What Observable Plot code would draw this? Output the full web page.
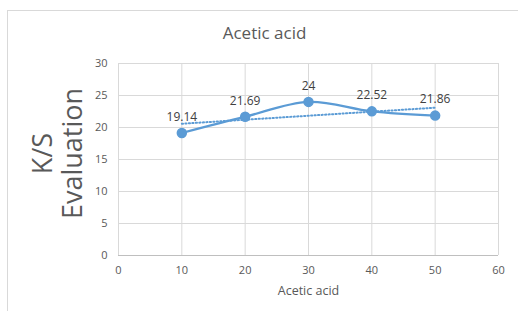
<!DOCTYPE html>
<html><head><meta charset="utf-8">
<script src="https://cdn.jsdelivr.net/npm/d3@7"></script>
<script src="https://cdn.jsdelivr.net/npm/@observablehq/plot@0.6"></script>
<style>
body{margin:0;background:#fff;}
#wrap{position:relative;width:518px;height:311px;overflow:hidden;font-family:"Open Sans",sans-serif;}
#frame{position:absolute;left:7px;top:10px;width:600px;height:400px;border:1px solid #d9d9d9;box-sizing:border-box;}
#wrap svg{position:absolute;left:0;top:0;}
</style></head>
<body><div id="wrap"><div id="frame"></div></div>
<script>
const concentrations = [10, 20, 30, 40, 50];
const ksValues = [19.14, 21.69, 24, 22.52, 21.86];
const xTicks = [0, 10, 20, 30, 40, 50, 60];
const yTicks = [0, 5, 10, 15, 20, 25, 30];
const titleText = "Acetic acid";
const xLabel = "Acetic acid";
const yLabel = "K/S\nEvaluation";

const data = concentrations.map((x, i) => ({x, y: ksValues[i]}));
const blue = "#5B9BD5";
const gray = "#595959";

const chart = Plot.plot({
  width: 518, height: 311,
  marginLeft: 118, marginRight: 20, marginTop: 63, marginBottom: 56,
  style: {fontFamily: "'Open Sans', sans-serif", fontSize: "11px", color: gray, background: "transparent"},
  x: {domain: [0, 60], ticks: xTicks, label: null},
  y: {domain: [0, 30], ticks: yTicks, label: null},
  marks: [
    Plot.gridX(xTicks, {stroke: "#d9d9d9", strokeOpacity: 1}),
    Plot.gridY(yTicks, {stroke: "#d9d9d9", strokeOpacity: 1}),
    Plot.ruleY([0], {stroke: "#bfbfbf"}),
    Plot.axisX({ticks: xTicks, tickSize: 0, tickPadding: 11, fontSize: 11, fill: gray, label: null}),
    Plot.axisY({ticks: yTicks, tickSize: 0, tickPadding: 11, fontSize: 11, fill: gray, label: null}),
    Plot.linearRegressionY(data, {x: "x", y: "y", ci: 0, stroke: blue, strokeWidth: 2, strokeDasharray: "1.2,2.3"}),
    Plot.line(data, {x: "x", y: "y", curve: "catmull-rom", stroke: blue, strokeWidth: 2.25}),
    Plot.dot(data, {x: "x", y: "y", r: 4.5, fill: blue, stroke: blue}),
    Plot.text(data, {x: "x", y: "y", text: d => String(d.y), dy: -16, fontSize: 12, fill: "#404040"}),
    Plot.text([titleText], {frameAnchor: "top", dx: -44, dy: -37, fontSize: 17, fill: gray}),
    Plot.text([xLabel], {frameAnchor: "bottom", dy: 39, fontSize: 12.5, fill: gray}),
    Plot.text([yLabel], {frameAnchor: "left", textAnchor: "middle", dx: -61, dy: -6, rotate: -90, fontSize: 27, fill: gray, lineHeight: 1.1})
  ]
});
document.getElementById("wrap").appendChild(chart);
</script></body></html>
